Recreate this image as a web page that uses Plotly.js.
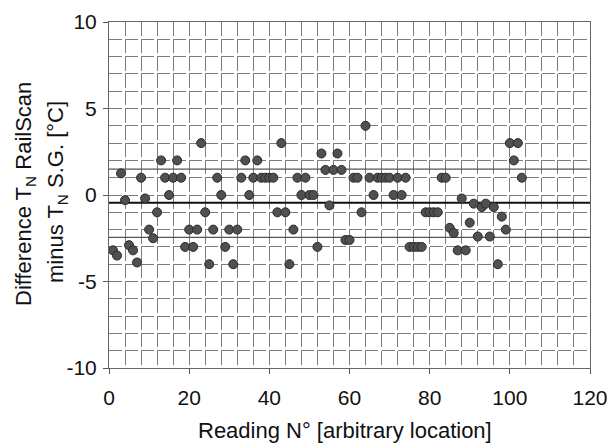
<!DOCTYPE html>
<html>
<head>
<meta charset="utf-8">
<script src="https://cdn.plot.ly/plotly-3.0.1.min.js"></script>
<style>html,body{margin:0;padding:0;background:#fff;}#chart{width:611px;height:443px;}</style>
</head>
<body>
<div id="chart"></div>
<script>
// Reading numbers
var readings = [];
for (var i = 1; i <= 103; i++) readings.push(i);
// Difference T_N RailScan minus T_N S.G. [°C]
var differences = [
  -3.2, -3.5, 1.25, -0.3, -2.9, -3.2, -3.9, 1, -0.2, -2,
  -2.5, -1, 2, 1, 0, 1, 2, 1, -3, -2,
  -3, -2, 3, -1, -4, -2, 1, 0, -3, -2,
  -4, -2, 1, 2, 0, 1, 2, 1, 1, 1,
  1, -1, 3, -1, -4, -2, 1, 0, 1, 0,
  0, -3, 2.4, 1.45, -0.6, 1.45, 2.4, 1.45, -2.6, -2.6,
  1, 1, -1, 4, 1, 0, 1, 1, 1, 1,
  0, 1, 0, 1, -3, -3, -3, -3, -1, -1,
  -1, -1, 1, 1, -1.9, -2.2, -3.2, -0.2, -3.2, -1.6,
  -0.5, -2.4, -0.7, -0.5, -2.4, -0.7, -4, -1.25, -2, 3,
  2, 3, 1
];
// Reference lines: mean and mean ± standard deviation
var refX = [0, 120];
var meanLine = [-0.45, -0.45];
var upperLine = [1.5, 1.5];
var lowerLine = [-2.45, -2.45];

var xTicks = [0, 20, 40, 60, 80, 100, 120];
var yTicks = [-10, -5, 0, 5, 10];

var FONT = 'Liberation Sans, Arial, sans-serif';

var traces = [
  {x: refX, y: upperLine, mode: 'lines', line: {color: '#555555', width: 1.3}, hoverinfo: 'skip', showlegend: false},
  {x: refX, y: lowerLine, mode: 'lines', line: {color: '#555555', width: 1.3}, hoverinfo: 'skip', showlegend: false},
  {x: refX, y: meanLine, mode: 'lines', line: {color: '#111111', width: 2}, hoverinfo: 'skip', showlegend: false},
  {x: readings, y: differences, mode: 'markers', type: 'scatter', showlegend: false,
   marker: {size: 9, color: '#505050', line: {color: '#2a2a2a', width: 1}}}
];

var gridColor = '#7d7d7d';

var layout = {
  width: 611, height: 443,
  margin: {l: 109, r: 21, t: 22, b: 75},
  paper_bgcolor: '#ffffff', plot_bgcolor: '#ffffff',
  font: {family: FONT, color: '#111111', size: 21},
  showlegend: false,
  xaxis: {
    range: [0, 120], tickvals: xTicks, ticktext: xTicks.map(String),
    showgrid: true, gridcolor: gridColor, gridwidth: 1, griddash: '14px,3.3px',
    minor: {dtick: 4, showgrid: true, gridcolor: gridColor, gridwidth: 1, griddash: '14px,3.3px', ticks: ''},
    ticks: 'outside', ticklen: 5, tickcolor: '#555555', tickwidth: 1,
    showline: true, linecolor: '#666666', linewidth: 1, mirror: true,
    zeroline: false, ticklabelstandoff: 6,
    tickfont: {family: FONT, size: 21, color: '#111111'}
  },
  yaxis: {
    range: [-10, 10], tickvals: yTicks, ticktext: yTicks.map(String),
    showgrid: true, gridcolor: gridColor, gridwidth: 1, griddash: '13px,3.03px',
    minor: {dtick: 1, showgrid: true, gridcolor: gridColor, gridwidth: 1, griddash: '13px,3.03px', ticks: ''},
    ticks: 'outside', ticklen: 5, tickcolor: '#555555', tickwidth: 1,
    showline: true, linecolor: '#666666', linewidth: 1, mirror: true,
    zeroline: false, ticklabelstandoff: 2,
    tickfont: {family: FONT, size: 21, color: '#111111'}
  },
  annotations: [
    {text: 'Reading N° [arbitrary location]', xref: 'paper', yref: 'paper', x: 0.49, y: 0,
     xanchor: 'center', yanchor: 'middle', yshift: -62, showarrow: false,
     font: {family: FONT, size: 22, color: '#111111'}},
    {text: 'Difference T<sub>N</sub> RailScan', xref: 'paper', yref: 'paper', x: 0, y: 0.5,
     xanchor: 'center', yanchor: 'middle', xshift: -84, yshift: 1, textangle: -90, showarrow: false,
     font: {family: FONT, size: 22, color: '#111111'}},
    {text: 'minus T<sub>N</sub> S.G. [°C]', xref: 'paper', yref: 'paper', x: 0, y: 0.5,
     xanchor: 'center', yanchor: 'middle', xshift: -52, yshift: 3, textangle: -90, showarrow: false,
     font: {family: FONT, size: 22, color: '#111111'}}
  ]
};

Plotly.newPlot('chart', traces, layout, {displayModeBar: false, staticPlot: true});
</script>
</body>
</html>
